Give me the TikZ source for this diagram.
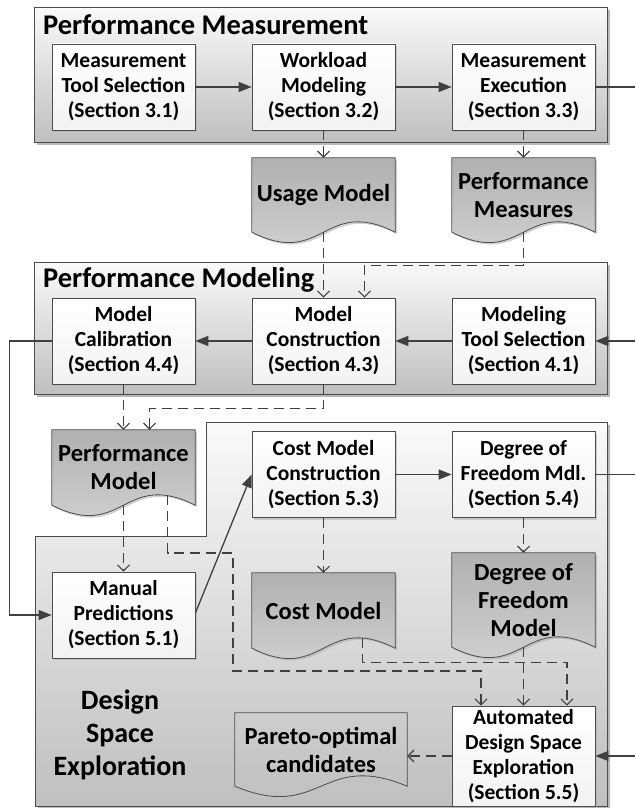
\documentclass[tikz,border=0pt]{standalone}
\usepackage{fontspec}
\setmainfont{Carlito}
\usetikzlibrary{arrows.meta,calc,shadows}
\pgfdeclarelayer{back}
\pgfdeclarelayer{mid}
\pgfsetlayers{back,mid,main}
\newcommand\docoutline[2][docshape]{%
  \path[#1] (#2.north west) -- (#2.north east) -- (#2.south east)
    .. controls ($(#2.south)+(0,-36)$) and ($(#2.south)+(0,36)$) .. (#2.south west) -- cycle;}
\begin{document}
\begin{tikzpicture}[x=1pt,y=-1pt,
  line/.style={draw=black!75, line width=1.3pt},
  solidarrow/.style={line, -{Triangle[length=13pt,width=10pt]}},
  dasharrow/.style={line, dash pattern=on 10pt off 6pt, -{Straight Barb[length=6pt,width=12pt,line width=1.1pt]}},
  group/.style={draw=black!70, line width=0.9pt, top color=black!2, bottom color=black!25, inner sep=0pt,
    drop shadow={shadow xshift=3pt, shadow yshift=-3pt, fill=black!45, opacity=0.6}},
  box/.style={draw=black!70, line width=0.8pt, top color=white, bottom color=black!5,
    minimum width=143pt, minimum height=86pt, inner sep=0pt, align=center,
    font=\fontsize{21.5}{25}\selectfont\bfseries,
    drop shadow={shadow xshift=2pt, shadow yshift=-2pt, fill=black!30, opacity=0.6}},
  docnode/.style={minimum width=143pt, minimum height=74pt, inner sep=0pt, align=center,
    font=\fontsize{24.5}{28}\selectfont\bfseries},
  docshape/.style={draw=black!70, line width=0.8pt, top color=black!31, bottom color=black!16,
    drop shadow={shadow xshift=2pt, shadow yshift=-2pt, fill=black!30, opacity=0.6}},
  plainshape/.style={draw=black!70, line width=0.8pt},
  title/.style={anchor=west, inner sep=0pt, font=\fontsize{28.5}{32}\selectfont\bfseries},
  bigtext/.style={inner sep=0pt, align=center, font=\fontsize{28}{33}\selectfont\bfseries},
]
\useasboundingbox (0,0) rectangle (635,808);

% groups
\begin{pgfonlayer}{back}
\node[group, minimum width=573pt, minimum height=135pt] (gpm) at (320.5,74.5) {};
\node[group, minimum width=573pt, minimum height=132pt] (gpmod) at (320.5,328) {};
\path[group] (206,422) -- (607,422) -- (607,806) -- (35,806) -- (35,536) -- (206,536) -- cycle;
\end{pgfonlayer}

\node[title] (tpm) at (43,25) {Performance Measurement};
\node[title] (tpmod) at (43,280) {Performance Modeling};
\node[bigtext] (tdse) at (120,735) {Design\\Space\\Exploration};

% process boxes
\node[box] (mts) at (123.5,87) {Measurement\\Tool Selection\\(Section 3.1)};
\node[box] (wm) at (323.5,87) {Workload\\Modeling\\(Section 3.2)};
\node[box] (me) at (523.5,87) {Measurement\\Execution\\(Section 3.3)};
\node[box] (mcal) at (123.5,341) {Model\\Calibration\\(Section 4.4)};
\node[box] (mcon) at (323.5,341) {Model\\Construction\\(Section 4.3)};
\node[box] (mtsel) at (523.5,341) {Modeling\\Tool Selection\\(Section 4.1)};
\node[box] (cmc) at (323.5,474.5) {Cost Model\\Construction\\(Section 5.3)};
\node[box] (dof) at (523.5,474.5) {Degree of\\Freedom Mdl.\\(Section 5.4)};
\node[box] (mp) at (123.5,615) {Manual\\Predictions\\(Section 5.1)};
\node[box, minimum height=100pt] (ade) at (523.5,756) {Automated\\Design Space\\Exploration\\(Section 5.5)};

% documents
\node[docnode] (um) at (323.5,195) {Usage Model};
\node[docnode] (pms) at (523.5,195) {Performance\\Measures};
\node[docnode, minimum height=75pt] (pmod) at (123.5,467.5) {Performance\\Model};
\node[docnode, minimum height=75pt] (cm) at (323.5,610.5) {Cost Model};
\node[docnode, minimum height=94pt] (dofm) at (523.5,600) {Degree of\\Freedom\\Model};
\node[docnode, minimum width=172pt, minimum height=73pt] (pareto) at (321,749.5) {Pareto-optimal\\candidates};

\begin{pgfonlayer}{mid}
\docoutline{um}
\docoutline{pms}
\docoutline{pmod}
\docoutline{cm}
\docoutline{dofm}
\docoutline[plainshape]{pareto}
\end{pgfonlayer}

% free ends at the right margin
\coordinate (outA) at (635,87);
\coordinate (inB) at (635,341);
\coordinate (outC) at (635,474.5);
\coordinate (inD) at (635,756);

% solid connectors
\draw[solidarrow] (mts.east) -- (wm.west);
\draw[solidarrow] (wm.east) -- (me.west);
\draw[line] (me.east) -- (outA);
\draw[solidarrow] (inB) -- (mtsel.east);
\draw[solidarrow] (mtsel.west) -- (mcon.east);
\draw[solidarrow] (mcon.west) -- (mcal.east);
\draw[solidarrow] (mcal.west) -- ++(-42,0) |- (mp.west);
\draw[solidarrow] ([yshift=2pt]mp.east) -- (cmc.west);
\draw[solidarrow] (cmc.east) -- (dof.west);
\draw[line] (dof.east) -- (outC);
\draw[solidarrow] (inD) -- (ade.east);

% dashed connectors
\draw[dasharrow] (wm.south) -- (um.north);
\draw[dasharrow] (me.south) -- (pms.north);
\draw[dasharrow] (um.south) -- (mcon.north);
\draw[dasharrow] (pms.south) -- ++(0,33) -| ([xshift=41pt]mcon.north);
\draw[dasharrow] (mcal.south) -- (pmod.north);
\draw[dasharrow] (mcon.south) -- ++(0,24) -| ([xshift=26pt]pmod.north);
\draw[dasharrow] (pmod.south) -- (mp.north);
\draw[dasharrow] ($(pmod.south)+(44,-10)$) |- (233,553) -- (233,671) -| ([xshift=-42.5pt]ade.north);
\draw[dasharrow] (cmc.south) -- (cm.north);
\draw[dasharrow] ($(cm.south)+(39,-10)$) -- ++(0,24) -| ([xshift=43.5pt]ade.north);
\draw[dasharrow] (dof.south) -- (dofm.north);
\draw[dasharrow] (dofm.south) -- (ade.north);
\draw[dasharrow] (ade.west) -- (ade.west -| pareto.east);
\end{tikzpicture}
\end{document}
